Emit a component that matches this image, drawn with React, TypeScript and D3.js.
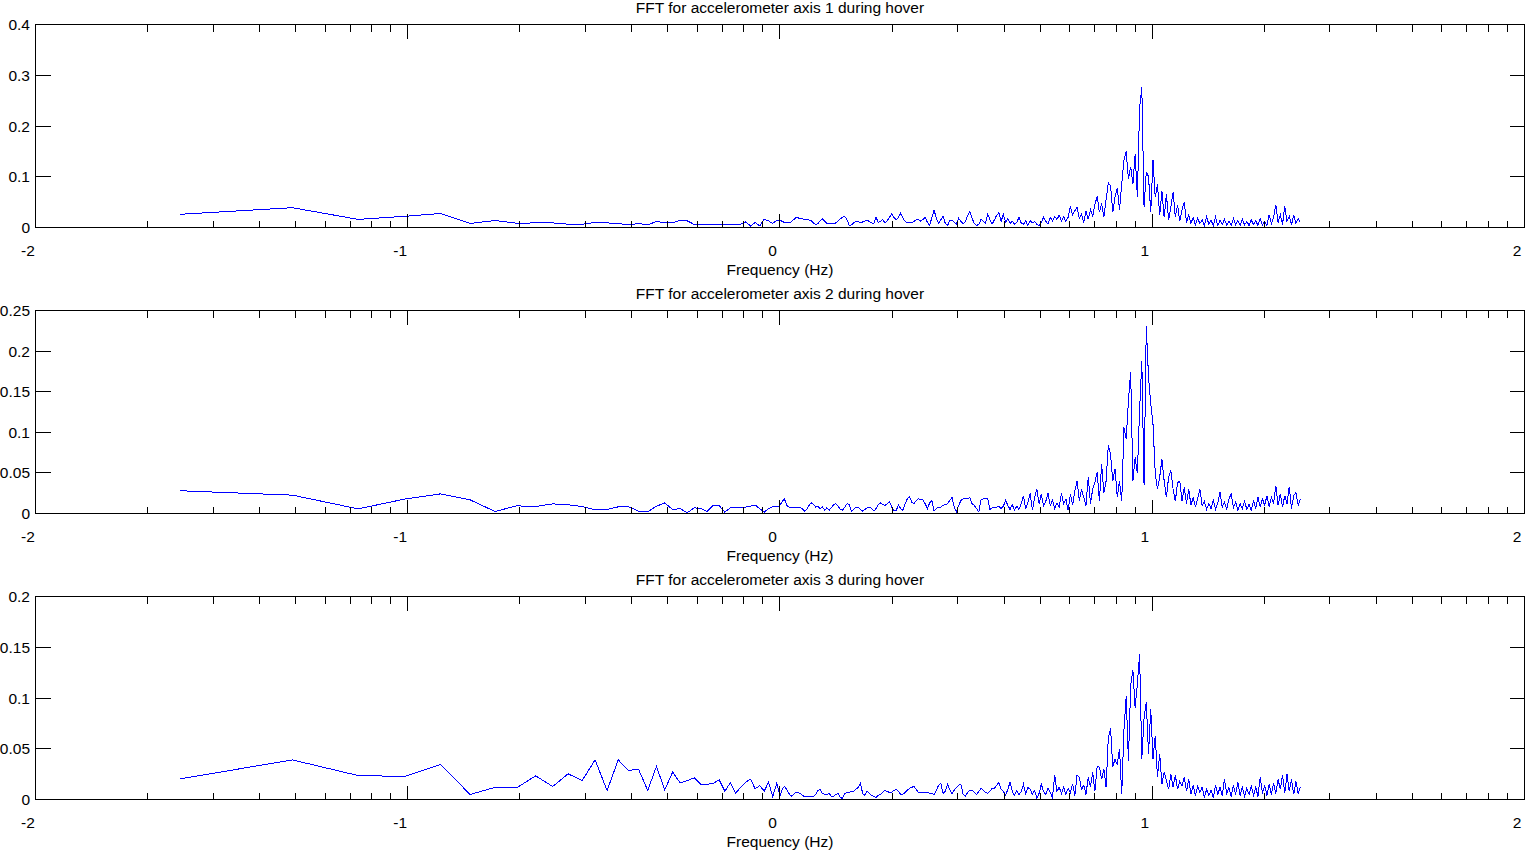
import React, { useEffect, useRef } from 'react';
import * as d3 from 'd3';

const WIDTH = 1526;
const HEIGHT = 852;

// spacing of the raw FFT bins below 1 Hz, and log10 step of the resampled band above 1 Hz
const BIN_HZ = 0.02451;
const LOG_STEP = 0.006;

const titles = [
  'FFT for accelerometer axis 1 during hover',
  'FFT for accelerometer axis 2 during hover',
  'FFT for accelerometer axis 3 during hover'
];
const xLabel = 'Frequency (Hz)';
const xTickLabels = ['-2', '-1', '0', '1', '2'];
const yTicks1 = [0, 0.1, 0.2, 0.3, 0.4];
const yTicks2 = [0, 0.05, 0.1, 0.15, 0.2, 0.25];
const yTicks3 = [0, 0.05, 0.1, 0.15, 0.2];

// bins 1..40 (below 1 Hz)
const axis1Low = [
  0.026, 0.039, 0.016, 0.022, 0.0276, 0.008, 0.0138, 0.0085, 0.009, 0.009,
  0.0065, 0.0065, 0.01, 0.009, 0.008, 0.005, 0.008, 0.005, 0.012, 0.009,
  0.009, 0.0145, 0.013, 0.006, 0.0066, 0.0066, 0.0066, 0.0066, 0.0066, 0.0066,
  0.0066, 0.0066, 0.011, 0.003, 0.01, 0.003, 0.016, 0.013, 0.008, 0.0145
];
// 1 Hz .. 25 Hz
const axis1High = [
  0.0145, 0.012, 0.01, 0.01, 0.01, 0.011, 0.015, 0.019, 0.019, 0.018,
  0.017, 0.016, 0.0155, 0.015, 0.013, 0.009, 0.006, 0.008, 0.013, 0.017,
  0.012, 0.008, 0.008, 0.008, 0.008, 0.009, 0.013, 0.017, 0.02, 0.022,
  0.015, 0.004, 0.005, 0.009, 0.012, 0.012, 0.009, 0.011, 0.013, 0.0145,
  0.012, 0.009, 0.008, 0.02, 0.01, 0.012, 0.016, 0.009, 0.013, 0.02,
  0.027, 0.02, 0.015, 0.02, 0.028, 0.019, 0.012, 0.01, 0.009, 0.009,
  0.012, 0.015, 0.015, 0.0125, 0.016, 0.02, 0.01, 0.004, 0.02, 0.034,
  0.018, 0.008, 0.015, 0.022, 0.008, 0.004, 0.013, 0.015, 0.01, 0.007,
  0.018, 0.012, 0.007, 0.012, 0.024, 0.031, 0.018, 0.008, 0.004, 0.006,
  0.016, 0.012, 0.009, 0.027, 0.015, 0.007, 0.015, 0.024, 0.029, 0.012,
  0.026, 0.01, 0.017, 0.008, 0.012, 0.007, 0.01, 0.02, 0.009, 0.006,
  0.013, 0.004, 0.014, 0.009, 0.012, 0.006, 0.004, 0.01, 0.02, 0.012,
  0.007, 0.02, 0.013, 0.022, 0.016, 0.024, 0.013, 0.021, 0.012, 0.02,
  0.042, 0.025, 0.033, 0.04, 0.018, 0.026, 0.01, 0.032, 0.016, 0.035,
  0.022, 0.045, 0.062, 0.03, 0.048, 0.02, 0.055, 0.088, 0.082, 0.03,
  0.06, 0.078, 0.035, 0.085, 0.133, 0.15, 0.095, 0.12, 0.085, 0.145,
  0.06, 0.235, 0.276, 0.04, 0.11, 0.1, 0.03, 0.133, 0.06, 0.085,
  0.025, 0.072, 0.02, 0.065, 0.015, 0.04, 0.07, 0.02, 0.045, 0.012,
  0.035, 0.05, 0.01, 0.025, 0.008, 0.02, 0.005, 0.018, 0.008, 0.015,
  0.004, 0.022, 0.006, 0.015, 0.003, 0.02, 0.004, 0.014, 0.006, 0.016,
  0.005, 0.012, 0.004, 0.018, 0.006, 0.014, 0.004, 0.016, 0.005, 0.012,
  0.004, 0.015, 0.006, 0.013, 0.004, 0.017, 0.005, 0.012, 0.004, 0.025,
  0.008, 0.02, 0.045, 0.01, 0.025, 0.006, 0.042, 0.012, 0.022, 0.005,
  0.025, 0.008, 0.018, 0.01
];

const axis2Low = [
  0.028, 0.0226, 0.0057, 0.0177, 0.0242, 0.0168, 0.0025, 0.0094, 0.0086, 0.0119,
  0.0107, 0.0086, 0.0045, 0.005, 0.0082, 0.0082, 0.003, 0.002, 0.009, 0.013,
  0.005, 0.006, 0.001, 0.007, 0.006, 0.0025, 0.0099, 0.0099, 0.0016, 0.007,
  0.007, 0.007, 0.008, 0.009, 0.0103, 0.006, 0.0016, 0.006, 0.0086, 0.008
];
const axis2High = [
  0.01, 0.015, 0.018, 0.01, 0.008, 0.008, 0.008, 0.008, 0.008, 0.007,
  0.006, 0.003, 0.005, 0.01, 0.013, 0.011, 0.008, 0.009, 0.006, 0.008,
  0.004, 0.007, 0.004, 0.007, 0.011, 0.012, 0.009, 0.005, 0.004, 0.008,
  0.012, 0.011, 0.003, 0.005, 0.008, 0.008, 0.005, 0.003, 0.005, 0.007,
  0.008, 0.006, 0.003, 0.006, 0.011, 0.013, 0.011, 0.01, 0.012, 0.015,
  0.008, 0.004, 0.003, 0.011, 0.006, 0.004, 0.012, 0.018, 0.021, 0.014,
  0.012, 0.016, 0.018, 0.017, 0.017, 0.012, 0.006, 0.013, 0.016, 0.003,
  0.006, 0.008, 0.008, 0.01, 0.011, 0.012, 0.016, 0.02, 0.008, 0.002,
  0.01, 0.016, 0.018, 0.019, 0.018, 0.02, 0.012, 0.01, 0.006, 0.002,
  0.017, 0.018, 0.019, 0.019, 0.005, 0.007, 0.008, 0.008, 0.009, 0.006,
  0.009, 0.016, 0.01, 0.005, 0.011, 0.004, 0.009, 0.005, 0.012, 0.022,
  0.006, 0.014, 0.025, 0.004, 0.02, 0.03, 0.012, 0.024, 0.009, 0.015,
  0.025, 0.01, 0.016, 0.006, 0.013, 0.008, 0.025, 0.012, 0.018, 0.004,
  0.024, 0.01, 0.028, 0.04, 0.016, 0.03, 0.02, 0.01, 0.045, 0.012,
  0.03, 0.038, 0.051, 0.015, 0.061, 0.025, 0.04, 0.084, 0.073, 0.04,
  0.055, 0.02, 0.04, 0.015, 0.106, 0.092, 0.139, 0.174, 0.04, 0.069,
  0.05, 0.127, 0.188, 0.035, 0.231, 0.168, 0.135, 0.11, 0.05, 0.03,
  0.045, 0.067, 0.04, 0.02, 0.045, 0.053, 0.03, 0.015, 0.038, 0.04,
  0.015, 0.032, 0.012, 0.03, 0.01, 0.02, 0.008, 0.018, 0.03, 0.01,
  0.015, 0.005, 0.012, 0.006, 0.016, 0.005, 0.013, 0.026, 0.008, 0.014,
  0.005, 0.018, 0.024, 0.007, 0.014, 0.004, 0.012, 0.006, 0.015, 0.005,
  0.011, 0.004, 0.016, 0.006, 0.02, 0.008, 0.018, 0.01, 0.022, 0.008,
  0.02, 0.012, 0.034, 0.01, 0.024, 0.008, 0.022, 0.012, 0.033, 0.006,
  0.022, 0.026, 0.01, 0.018
];

const axis3Low = [
  0.0204, 0.039, 0.0236, 0.0227, 0.0345, 0.0049, 0.012, 0.0115, 0.0233, 0.0128,
  0.0253, 0.0187, 0.039, 0.0089, 0.039, 0.0286, 0.03, 0.0089, 0.0325, 0.0095,
  0.027, 0.0164, 0.0187, 0.0213, 0.0148, 0.015, 0.016, 0.0194, 0.0082, 0.0164,
  0.0062, 0.012, 0.017, 0.02, 0.0105, 0.0138, 0.0082, 0.017, 0.003, 0.016
];
const axis3High = [
  0.003, 0.01, 0.013, 0.01, 0.006, 0.003, 0.005, 0.007, 0.007, 0.006,
  0.004, 0.003, 0.003, 0.003, 0.003, 0.003, 0.005, 0.009, 0.01, 0.006,
  0.005, 0.005, 0.006, 0.003, 0.003, 0.005, 0.006, 0.002, 0.001, 0.006,
  0.007, 0.007, 0.008, 0.008, 0.01, 0.012, 0.016, 0.006, 0.004, 0.008,
  0.006, 0.004, 0.003, 0.002, 0.004, 0.005, 0.007, 0.009, 0.008, 0.007,
  0.007, 0.009, 0.01, 0.008, 0.005, 0.005, 0.007, 0.009, 0.011, 0.012,
  0.013, 0.01, 0.007, 0.007, 0.007, 0.007, 0.007, 0.006, 0.006, 0.005,
  0.009, 0.014, 0.016, 0.006, 0.008, 0.015, 0.01, 0.006, 0.009, 0.012,
  0.014, 0.015, 0.005, 0.003, 0.007, 0.009, 0.009, 0.007, 0.005, 0.008,
  0.011, 0.009, 0.007, 0.006, 0.008, 0.011, 0.011, 0.014, 0.017, 0.01,
  0.008, 0.004, 0.01, 0.017, 0.008, 0.004, 0.009, 0.005, 0.008, 0.015,
  0.006, 0.012, 0.01, 0.005, 0.009, 0.001, 0.006, 0.015, 0.008, 0.005,
  0.011, 0.007, 0.002, 0.024, 0.008, 0.012, 0.006, 0.012, 0.005, 0.011,
  0.007, 0.015, 0.004, 0.024, 0.022, 0.01, 0.014, 0.005, 0.022, 0.012,
  0.027, 0.008, 0.033, 0.032, 0.02, 0.03, 0.012, 0.061, 0.07, 0.032,
  0.04, 0.034, 0.05, 0.005, 0.069, 0.102, 0.038, 0.112, 0.128, 0.09,
  0.114, 0.143, 0.04, 0.08, 0.096, 0.045, 0.089, 0.04, 0.063, 0.022,
  0.045, 0.015, 0.027, 0.019, 0.01, 0.025, 0.012, 0.024, 0.01, 0.018,
  0.013, 0.022, 0.008, 0.02, 0.005, 0.014, 0.004, 0.013, 0.007, 0.012,
  0.002, 0.01, 0.004, 0.009, 0.002, 0.014, 0.005, 0.012, 0.004, 0.02,
  0.006, 0.012, 0.003, 0.014, 0.005, 0.017, 0.004, 0.012, 0.003, 0.011,
  0.005, 0.013, 0.004, 0.012, 0.003, 0.022, 0.006, 0.014, 0.004, 0.015,
  0.005, 0.016, 0.006, 0.02, 0.01, 0.024, 0.006, 0.025, 0.008, 0.02,
  0.005, 0.018, 0.006, 0.012
];

type Point = { f: number; v: number };

function buildSeries(low: number[], high: number[]): Point[] {
  const a = low.map((v, i) => ({ f: (i + 1) * BIN_HZ, v }));
  const b = high.map((v, i) => ({ f: Math.pow(10, i * LOG_STEP), v }));
  return a.concat(b);
}

const panels = [
  { title: titles[0], ticks: yTicks1, data: buildSeries(axis1Low, axis1High) },
  { title: titles[1], ticks: yTicks2, data: buildSeries(axis2Low, axis2High) },
  { title: titles[2], ticks: yTicks3, data: buildSeries(axis3Low, axis3High) }
];

const FONT = '"Liberation Sans", Arial, Helvetica, sans-serif';

export default function App() {
  const ref = useRef<SVGSVGElement>(null);

  useEffect(() => {
    const svg = d3.select(ref.current);
    svg.selectAll('*').remove();

    const left = 35.5;
    const right = 1524.5;
    const x = d3.scaleLog().domain([0.01, 100]).range([left, right]);
    const xTicks = x.ticks();
    const isDecade = (t: number) => Math.abs(Math.log10(t) - Math.round(Math.log10(t))) < 1e-9;
    const decades = xTicks.filter(isDecade);

    panels.forEach((p, idx) => {
      const top = 24.5 + idx * 286;
      const bottom = top + 203;
      const y = d3
        .scaleLinear()
        .domain([0, p.ticks[p.ticks.length - 1]])
        .range([bottom, top]);

      const g = svg.append('g').attr('font-family', FONT).attr('font-size', 15.5);

      const line = d3
        .line<Point>()
        .x(d => x(d.f))
        .y(d => y(d.v));

      g.append('path')
        .datum(p.data)
        .attr('d', line)
        .attr('fill', 'none')
        .attr('stroke', '#0000ff')
        .attr('stroke-width', 1)
        .attr('shape-rendering', 'crispEdges');

      const axes = g.append('g').attr('stroke', '#000').attr('shape-rendering', 'crispEdges');

      axes
        .append('rect')
        .attr('x', left)
        .attr('y', top)
        .attr('width', right - left)
        .attr('height', bottom - top)
        .attr('fill', 'none');

      xTicks.forEach(t => {
        const len = isDecade(t) ? 14 : 7;
        const px = Math.floor(x(t)) + 0.5;
        axes.append('line').attr('x1', px).attr('x2', px).attr('y1', bottom).attr('y2', bottom - len);
        axes.append('line').attr('x1', px).attr('x2', px).attr('y1', top).attr('y2', top + len);
      });

      p.ticks.forEach(t => {
        const py = Math.floor(y(t)) + 0.5;
        axes.append('line').attr('x1', left).attr('x2', left + 15).attr('y1', py).attr('y2', py);
        axes.append('line').attr('x1', right - 15).attr('x2', right).attr('y1', py).attr('y2', py);
        g.append('text')
          .attr('x', 30)
          .attr('y', py + 5.5)
          .attr('text-anchor', 'end')
          .text(String(t));
      });

      decades.forEach((t, i) => {
        g.append('text')
          .attr('x', x(t) - 7.5)
          .attr('y', bottom + 28)
          .attr('text-anchor', 'middle')
          .text(xTickLabels[i]);
      });

      g.append('text')
        .attr('x', (left + right) / 2)
        .attr('y', bottom + 47)
        .attr('text-anchor', 'middle')
        .text(xLabel);

      g.append('text')
        .attr('x', (left + right) / 2)
        .attr('y', top - 11.8)
        .attr('text-anchor', 'middle')
        .text(p.title);
    });
  }, []);

  return (
    <svg
      ref={ref}
      width={WIDTH}
      height={HEIGHT}
      style={{ position: 'absolute', left: 0, top: 0, display: 'block', background: '#fff' }}
    />
  );
}
